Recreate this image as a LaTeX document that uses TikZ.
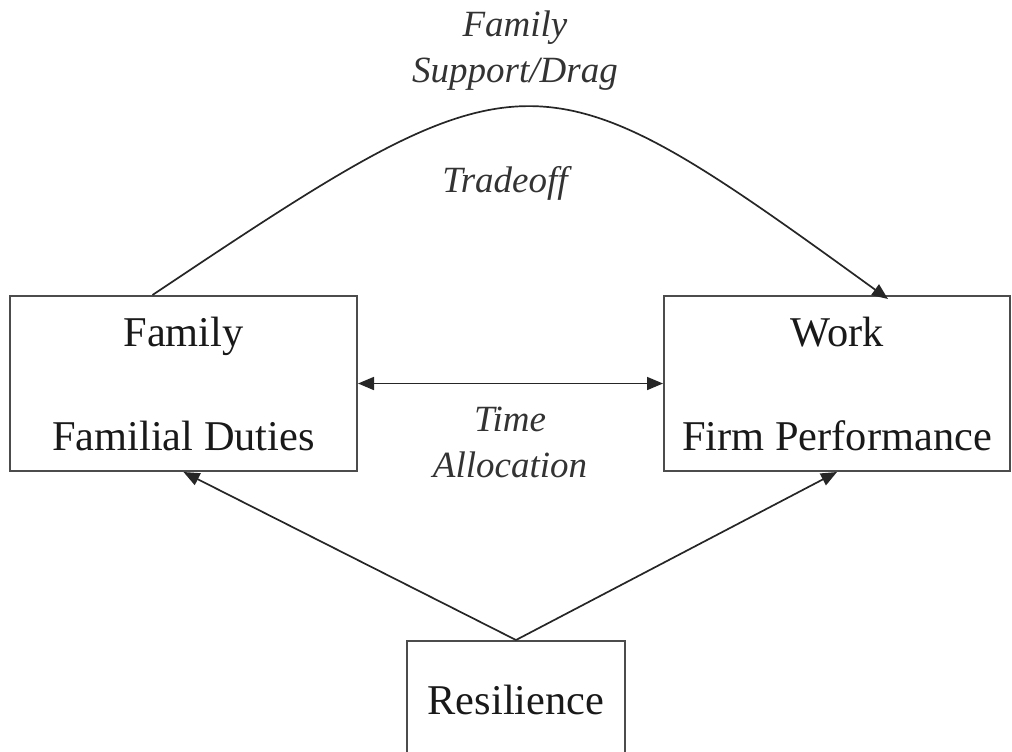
\documentclass[tikz,border=0pt]{standalone}
\usepackage{fontspec}
\setmainfont{Liberation Serif}
\usetikzlibrary{arrows.meta}
\tikzset{
	blockbox/.style={
		draw=black!70, line width=1pt, rectangle, align=center,
		text=black!90, font=\fontsize{21.2}{25}\selectfont},
	linklabel/.style={
		align=center, text=black!80, font=\fontsize{18.5}{23}\selectfont\itshape},
	linkarrow/.style={
		draw=black!85, line width=0.85pt, -{Triangle[length=8pt,width=6.5pt]}}
}

\begin{document}
\begin{tikzpicture}[x=0.5pt,y=0.5pt,yscale=-1,xscale=1]
\useasboundingbox (0,0) rectangle (1012,751); %page is 1012 x 751

\node (fam) [blockbox, minimum width=173.5pt, minimum height=87.5pt] at (183.5,383.5) {Family\\[27pt]Familial Duties};
\node (work) [blockbox, minimum width=173pt, minimum height=87.5pt] at (837,383.5) {Work\\[27pt]Firm Performance};
\node (res) [blockbox, minimum width=109pt, minimum height=59pt] at (516,700) {Resilience};

\coordinate (famtop) at ([xshift=-15.5pt]fam.north);
\coordinate (worktop) at ([xshift=25.5pt,yshift=2pt]work.north);

\draw [linkarrow] (famtop) .. controls (528,44) and (536,44) .. (worktop);
\draw [linkarrow, {Triangle[length=8pt,width=6.5pt]}-{Triangle[length=8pt,width=6.5pt]}] (fam.east) -- (work.west);
\draw [linkarrow] (res.north) -- (fam.south);
\draw [linkarrow] (res.north) -- (work.south);

\node (supp) [linklabel] at (515,51) {Family\\Support/Drag};
\node (trade) [linklabel] at (505,183) {Tradeoff};
\node (time) [linklabel] at (510,442) {Time\\Allocation};

\end{tikzpicture}
\end{document}
